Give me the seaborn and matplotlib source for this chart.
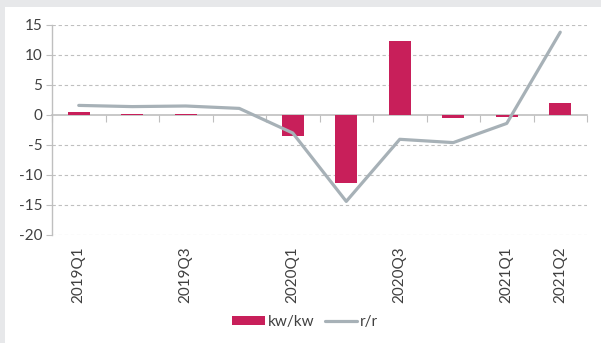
import numpy as np
import pandas as pd
import matplotlib
matplotlib.use("Agg")
import matplotlib.pyplot as plt
from matplotlib.patches import Patch, Rectangle
from matplotlib.lines import Line2D
import seaborn as sns

quarters = ["2019Q1", "2019Q2", "2019Q3", "2019Q4", "2020Q1", "2020Q2",
            "2020Q3", "2020Q4", "2021Q1", "2021Q2"]
tick_labels = ["2019Q1", "", "2019Q3", "", "2020Q1", "", "2020Q3", "", "2021Q1", "2021Q2"]
kw_kw = [0.45, 0.15, 0.15, 0.0, -3.5, -11.4, 12.4, -0.5, -0.3, 2.0]
r_r = [1.6, 1.4, 1.5, 1.1, -3.0, -14.4, -4.05, -4.6, -1.4, 13.8]

BAR = "#C81F5A"
LINE = "#A7B1B7"
AXC = "#BFBFBF"
TXT = "#404040"

sns.set_theme(style="white")
plt.rcParams["font.family"] = ["Lato", "DejaVu Sans"]

fig = plt.figure(figsize=(6.01, 3.43), dpi=100)
fig.patch.set_facecolor("white")
# grey frame (left and top)
fig.patches.append(Rectangle((0, 0), 5 / 601, 1, transform=fig.transFigure,
                             facecolor="#E7E8EA", edgecolor="none", zorder=0))
fig.patches.append(Rectangle((0, 1 - 7 / 343), 1, 7 / 343, transform=fig.transFigure,
                             facecolor="#E7E8EA", edgecolor="none", zorder=0))

ax = fig.add_axes([52 / 601, 1 - 235 / 343, (587 - 52) / 601, 210 / 343])

df = pd.DataFrame({"q": quarters, "kw": kw_kw, "rr": r_r})
df["pos"] = np.arange(len(df))

sns.barplot(data=df, x="q", y="kw", color=BAR, width=0.41, saturation=1,
            edgecolor="none", linewidth=0, ax=ax, zorder=3)
sns.lineplot(data=df, x="pos", y="rr", color=LINE, linewidth=2.3, ax=ax,
             zorder=4)

ax.set_ylim(-20, 15)
ax.set_xlim(-0.5, len(quarters) - 0.5)
ax.set_yticks(np.arange(-20, 16, 5))
ax.set_yticklabels([str(v) for v in np.arange(-20, 16, 5)], fontsize=11, color=TXT)
ax.tick_params(axis="y", length=4, width=0.8, color=AXC, pad=3, left=True)
for v in np.arange(-20, 16, 5):
    if v != 0:
        ax.axhline(v, color=AXC, linewidth=0.8, linestyle=(0, (3, 2.5)), zorder=1)

for s in ["top", "right"]:
    ax.spines[s].set_visible(False)
ax.spines["left"].set_color(AXC)
ax.spines["left"].set_linewidth(1.0)
ax.spines["bottom"].set_position(("data", 0))
ax.spines["bottom"].set_color(AXC)
ax.spines["bottom"].set_linewidth(1.2)
ax.spines["bottom"].set_zorder(2)

ax.set_xticks(np.arange(len(quarters)))
ax.set_xticklabels([])
ax.set_xticks(np.arange(len(quarters) + 1) - 0.5, minor=True)
ax.tick_params(axis="x", which="major", length=0, bottom=True)
ax.tick_params(axis="x", which="minor", length=5, width=0.8, color=AXC,
               direction="out", bottom=True)
ax.set_xlabel("")
ax.set_ylabel("")

sec = ax.secondary_xaxis("bottom")
sec.set_xticks(np.arange(len(quarters)))
sec.set_xticklabels(tick_labels, rotation=90, fontsize=11, color=TXT)
sec.tick_params(length=0, pad=8)
sec.spines["bottom"].set_visible(False)

handles = [Patch(facecolor=BAR, edgecolor="none"),
           Line2D([], [], color=LINE, linewidth=2.3)]
fig.legend(handles, ["kw/kw", "r/r"], loc="center", ncol=2,
           bbox_to_anchor=(0.508, 1 - 322 / 343), frameon=False, fontsize=11,
           handlelength=2.1, handleheight=0.55, handletextpad=0.2,
           columnspacing=0.7, labelcolor=TXT)

fig.savefig("out.png", dpi=100, facecolor="white")
